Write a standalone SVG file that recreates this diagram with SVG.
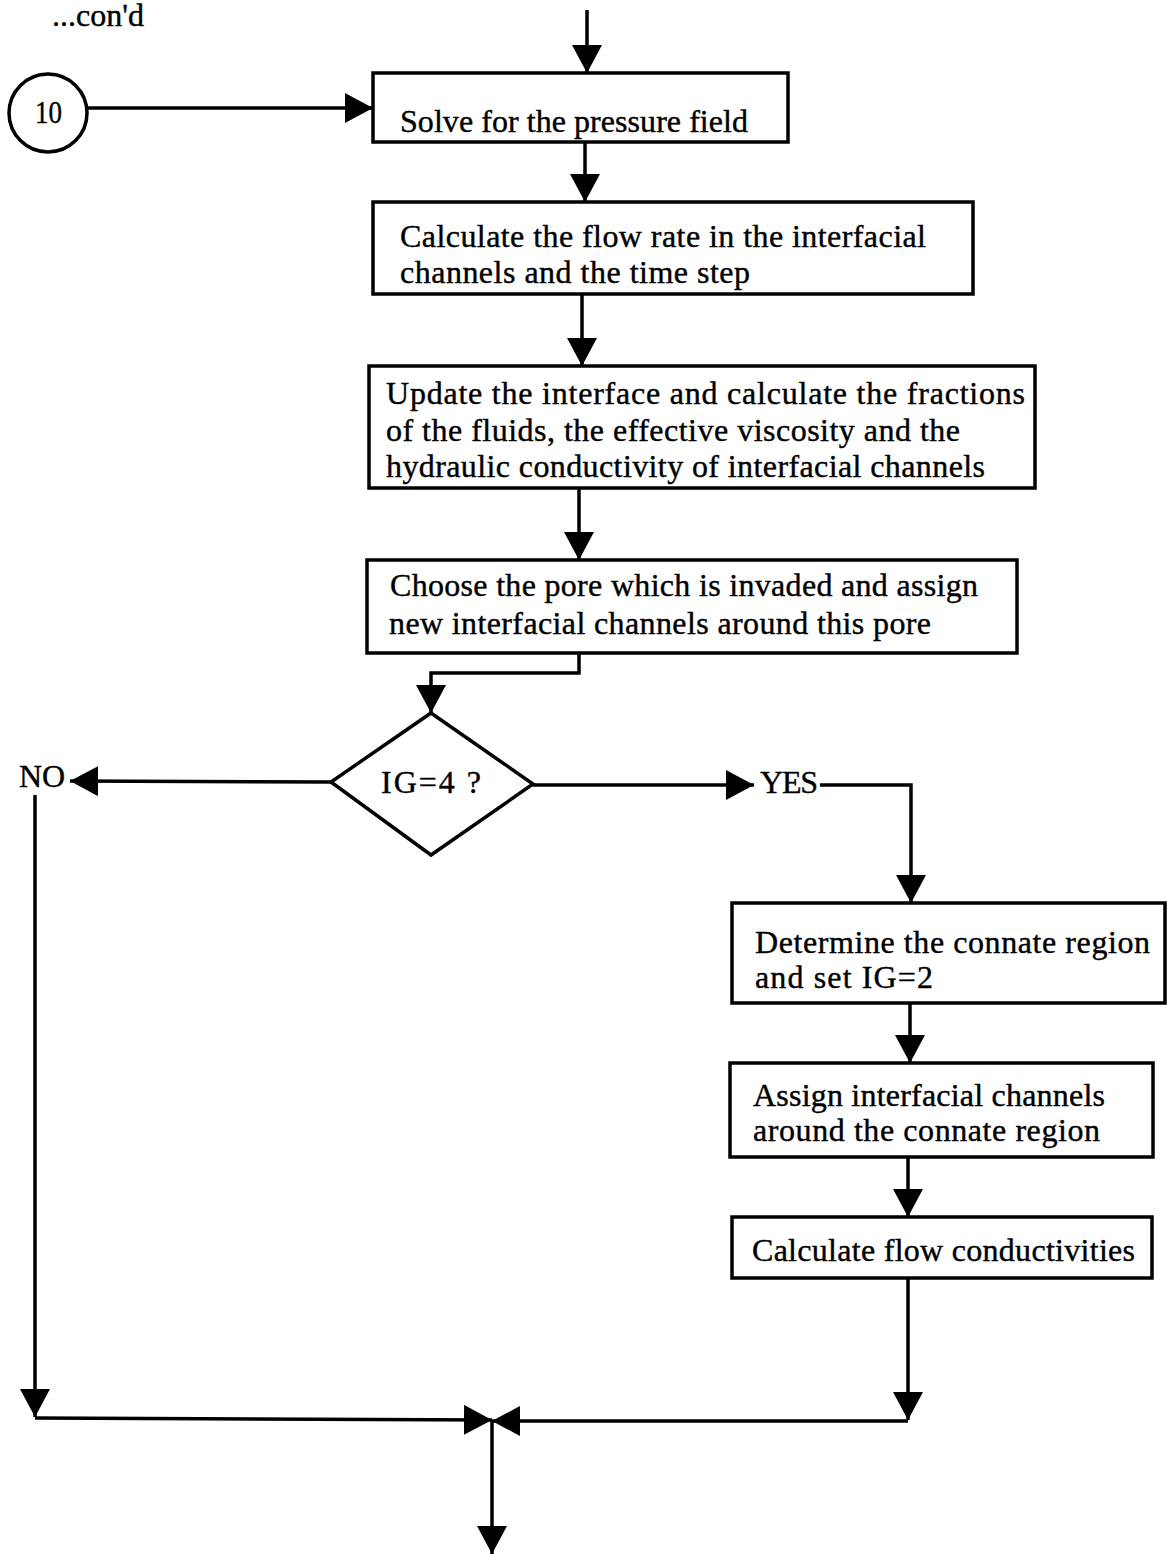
<svg xmlns="http://www.w3.org/2000/svg" width="1167" height="1554" viewBox="0 0 1167 1554">
<style>
.box{fill:#fff;stroke:#000;stroke-width:3.5}
.t{font-family:"Liberation Serif","Times New Roman",serif;font-size:32px;fill:#000;stroke:#000;stroke-width:0.4}
.c{fill:none;stroke:#000;stroke-width:3.5}
</style>
<defs>
<marker id="ah" markerUnits="userSpaceOnUse" viewBox="0 0 28 30" refX="28" refY="15" markerWidth="28" markerHeight="30" orient="auto">
<path d="M0,0 L28,15 L0,30 Z" fill="#000"/>
</marker>
</defs>
<rect width="1167" height="1554" fill="#fff"/>
<text class="t" x="52" y="26" font-size="22" textLength="92">...con'd</text>
<g id="connector10">
<circle cx="48" cy="113" r="39" class="box"/>
<text class="t" x="35" y="123" textLength="27" lengthAdjust="spacingAndGlyphs">10</text>
</g>
<g id="box1">
<rect class="box" x="373" y="73" width="415" height="69"/>
<text class="t" x="400" y="132" textLength="348">Solve for the pressure field</text>
</g>
<g id="box2">
<rect class="box" x="373" y="202" width="600" height="92"/>
<text class="t" x="400" y="247" textLength="526">Calculate the flow rate in the interfacial</text>
<text class="t" x="400" y="283" textLength="350">channels and the time step</text>
</g>
<g id="box3">
<rect class="box" x="369" y="366" width="666" height="122"/>
<text class="t" x="386" y="404" textLength="639">Update the interface and calculate the fractions</text>
<text class="t" x="386" y="441" textLength="574">of the fluids, the effective viscosity and the</text>
<text class="t" x="386" y="477" textLength="599">hydraulic conductivity of interfacial channels</text>
</g>
<g id="box4">
<rect class="box" x="367" y="560" width="650" height="93"/>
<text class="t" x="390" y="596" textLength="588">Choose the pore which is invaded and assign</text>
<text class="t" x="389" y="634" textLength="542">new interfacial channels around this pore</text>
</g>
<g id="decision">
<polygon class="box" points="431,713 533,784 431,855 331,782"/>
<text class="t" x="381" y="793" textLength="100">IG=4 ?</text>
</g>
<g id="labels">
<text class="t" x="19" y="787" textLength="46">NO</text>
<text class="t" x="760" y="793" textLength="58">YES</text>
</g>
<g id="box5">
<rect class="box" x="732" y="903" width="433" height="100"/>
<text class="t" x="755" y="953" textLength="395">Determine the connate region</text>
<text class="t" x="755" y="988" textLength="178">and set IG=2</text>
</g>
<g id="box6">
<rect class="box" x="730" y="1063" width="423" height="94"/>
<text class="t" x="753" y="1106" textLength="352">Assign interfacial channels</text>
<text class="t" x="753" y="1141" textLength="347">around the connate region</text>
</g>
<g id="box7">
<rect class="box" x="732" y="1217" width="420" height="61"/>
<text class="t" x="752" y="1261" textLength="383">Calculate flow conductivities</text>
</g>
<g id="connectors">
<line class="c" x1="587" y1="10" x2="587" y2="73" marker-end="url(#ah)"/>
<line class="c" x1="87" y1="108" x2="373" y2="108" marker-end="url(#ah)"/>
<line class="c" x1="585" y1="142" x2="585" y2="202" marker-end="url(#ah)"/>
<line class="c" x1="582" y1="294" x2="582" y2="366" marker-end="url(#ah)"/>
<line class="c" x1="579" y1="488" x2="579" y2="560" marker-end="url(#ah)"/>
<polyline class="c" points="579,653 579,673 431,673 431,713" marker-end="url(#ah)"/>
<line class="c" x1="331" y1="782" x2="70" y2="781" marker-end="url(#ah)"/>
<line class="c" x1="35" y1="795" x2="35" y2="1417" marker-end="url(#ah)"/>
<line class="c" x1="35" y1="1418" x2="492" y2="1420" marker-end="url(#ah)"/>
<line class="c" x1="533" y1="785" x2="754" y2="785" marker-end="url(#ah)"/>
<polyline class="c" points="820,785 911,785 911,903" marker-end="url(#ah)"/>
<line class="c" x1="910" y1="1003" x2="910" y2="1063" marker-end="url(#ah)"/>
<line class="c" x1="908" y1="1157" x2="908" y2="1217" marker-end="url(#ah)"/>
<line class="c" x1="908" y1="1278" x2="908" y2="1420" marker-end="url(#ah)"/>
<line class="c" x1="908" y1="1421" x2="492" y2="1421" marker-end="url(#ah)"/>
<line class="c" x1="492" y1="1420" x2="492" y2="1554" marker-end="url(#ah)"/>
</g>
</svg>
